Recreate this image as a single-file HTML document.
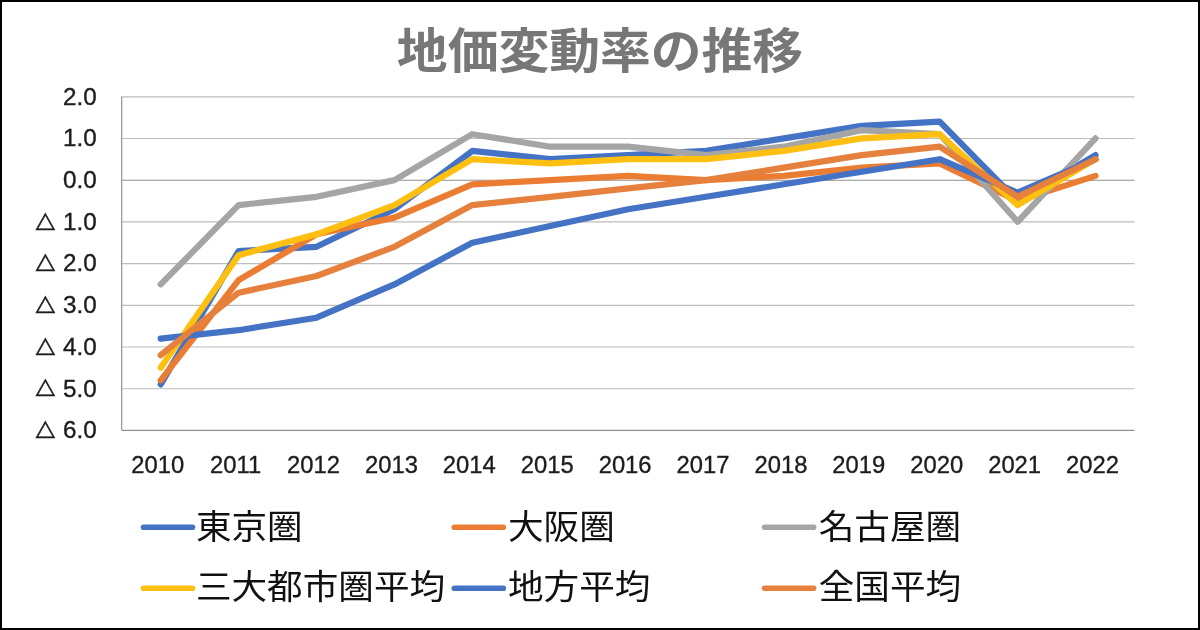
<!DOCTYPE html>
<html lang="ja">
<head>
<meta charset="utf-8">
<title>地価変動率の推移</title>
<style>
html,body{margin:0;padding:0;background:#fff;}
body{width:1200px;height:630px;overflow:hidden;font-family:"Liberation Sans","Noto Sans CJK JP",sans-serif;}
svg{display:block;}
.ax{font-family:"Liberation Sans","Noto Sans CJK JP",sans-serif;font-size:23.1px;fill:#1c1c1c;stroke:#1c1c1c;stroke-width:0.35px;}
.tri{font-family:"DejaVu Sans","Noto Sans CJK JP",sans-serif;font-size:21.6px;fill:#1c1c1c;stroke:#1c1c1c;stroke-width:0.45px;}
.lg{font-family:"Liberation Sans","Noto Sans CJK JP",sans-serif;font-size:35.6px;fill:#111;}
.tt{font-family:"Liberation Sans","Noto Sans CJK JP",sans-serif;font-size:50.8px;font-weight:bold;fill:#777;}
</style>
</head>
<body>
<svg width="1200" height="630" viewBox="0 0 1200 630">
<rect x="0" y="0" width="1200" height="630" fill="#000"/>
<rect x="2" y="2" width="1196" height="626" fill="#fff"/>
<text class="tt" transform="translate(600,67.5) scale(1,0.945)" text-anchor="middle">地価変動率の推移</text>
<line x1="121.7" x2="1134.5" y1="96.8" y2="96.8" stroke="#bdbdbd" stroke-width="1.15"/>
<line x1="121.7" x2="1134.5" y1="138.5" y2="138.5" stroke="#bdbdbd" stroke-width="1.15"/>
<line x1="121.7" x2="1134.5" y1="180.2" y2="180.2" stroke="#8f8f8f" stroke-width="1.15"/>
<line x1="121.7" x2="1134.5" y1="221.9" y2="221.9" stroke="#bdbdbd" stroke-width="1.15"/>
<line x1="121.7" x2="1134.5" y1="263.6" y2="263.6" stroke="#bdbdbd" stroke-width="1.15"/>
<line x1="121.7" x2="1134.5" y1="305.3" y2="305.3" stroke="#bdbdbd" stroke-width="1.15"/>
<line x1="121.7" x2="1134.5" y1="347.0" y2="347.0" stroke="#bdbdbd" stroke-width="1.15"/>
<line x1="121.7" x2="1134.5" y1="388.7" y2="388.7" stroke="#bdbdbd" stroke-width="1.15"/>
<line x1="121.7" x2="1134.5" y1="430.4" y2="430.4" stroke="#8f8f8f" stroke-width="1.15"/>
<line x1="121.7" x2="121.7" y1="96.7" y2="430.3" stroke="#8f8f8f" stroke-width="1.15"/>
<text class="ax" transform="translate(96.8,104.6) scale(1.05,1)" text-anchor="end">2.0</text>
<text class="ax" transform="translate(96.8,146.3) scale(1.05,1)" text-anchor="end">1.0</text>
<text class="ax" transform="translate(96.8,188.0) scale(1.05,1)" text-anchor="end">0.0</text>
<text class="ax" transform="translate(96.8,229.7) scale(1.05,1)" text-anchor="end">1.0</text>
<text class="tri" transform="translate(45.4,226.6) scale(1.16,1.03)" text-anchor="middle">△</text>
<text class="ax" transform="translate(96.8,271.4) scale(1.05,1)" text-anchor="end">2.0</text>
<text class="tri" transform="translate(45.4,268.3) scale(1.16,1.03)" text-anchor="middle">△</text>
<text class="ax" transform="translate(96.8,313.1) scale(1.05,1)" text-anchor="end">3.0</text>
<text class="tri" transform="translate(45.4,310.0) scale(1.16,1.03)" text-anchor="middle">△</text>
<text class="ax" transform="translate(96.8,354.8) scale(1.05,1)" text-anchor="end">4.0</text>
<text class="tri" transform="translate(45.4,351.7) scale(1.16,1.03)" text-anchor="middle">△</text>
<text class="ax" transform="translate(96.8,396.5) scale(1.05,1)" text-anchor="end">5.0</text>
<text class="tri" transform="translate(45.4,393.4) scale(1.16,1.03)" text-anchor="middle">△</text>
<text class="ax" transform="translate(96.8,438.2) scale(1.05,1)" text-anchor="end">6.0</text>
<text class="tri" transform="translate(45.4,435.1) scale(1.16,1.03)" text-anchor="middle">△</text>
<text class="ax" transform="translate(157.7,472.6) scale(1.03,1)" text-anchor="middle">2010</text>
<text class="ax" transform="translate(235.6,472.6) scale(1.03,1)" text-anchor="middle">2011</text>
<text class="ax" transform="translate(313.5,472.6) scale(1.03,1)" text-anchor="middle">2012</text>
<text class="ax" transform="translate(391.4,472.6) scale(1.03,1)" text-anchor="middle">2013</text>
<text class="ax" transform="translate(469.3,472.6) scale(1.03,1)" text-anchor="middle">2014</text>
<text class="ax" transform="translate(547.2,472.6) scale(1.03,1)" text-anchor="middle">2015</text>
<text class="ax" transform="translate(625.1,472.6) scale(1.03,1)" text-anchor="middle">2016</text>
<text class="ax" transform="translate(703.0,472.6) scale(1.03,1)" text-anchor="middle">2017</text>
<text class="ax" transform="translate(780.9,472.6) scale(1.03,1)" text-anchor="middle">2018</text>
<text class="ax" transform="translate(858.8,472.6) scale(1.03,1)" text-anchor="middle">2019</text>
<text class="ax" transform="translate(936.7,472.6) scale(1.03,1)" text-anchor="middle">2020</text>
<text class="ax" transform="translate(1014.6,472.6) scale(1.03,1)" text-anchor="middle">2021</text>
<text class="ax" transform="translate(1092.5,472.6) scale(1.03,1)" text-anchor="middle">2022</text>
<polyline points="160.7,384.4 238.6,251.0 316.5,246.8 394.4,209.3 472.3,150.9 550.2,159.2 628.1,155.1 706.0,150.9 783.9,138.4 861.8,125.9 939.7,121.7 1017.6,200.9 1095.5,155.1" fill="none" stroke="#4472C4" stroke-width="6.2" stroke-linecap="round" stroke-linejoin="round"/>
<polyline points="160.7,380.3 238.6,280.2 316.5,234.3 394.4,217.6 472.3,184.3 550.2,180.1 628.1,175.9 706.0,180.1 783.9,175.9 861.8,167.6 939.7,163.4 1017.6,200.9 1095.5,175.9" fill="none" stroke="#EB7D33" stroke-width="6.2" stroke-linecap="round" stroke-linejoin="round"/>
<polyline points="160.7,284.4 238.6,205.1 316.5,196.8 394.4,180.1 472.3,134.2 550.2,146.7 628.1,146.7 706.0,155.1 783.9,146.7 861.8,130.1 939.7,134.2 1017.6,221.8 1095.5,138.4" fill="none" stroke="#A5A5A5" stroke-width="6.2" stroke-linecap="round" stroke-linejoin="round"/>
<polyline points="160.7,367.8 238.6,255.2 316.5,234.3 394.4,205.1 472.3,159.2 550.2,163.4 628.1,159.2 706.0,159.2 783.9,150.9 861.8,138.4 939.7,134.2 1017.6,205.1 1095.5,159.2" fill="none" stroke="#FDC010" stroke-width="6.2" stroke-linecap="round" stroke-linejoin="round"/>
<polyline points="160.7,338.6 238.6,330.2 316.5,317.7 394.4,284.4 472.3,242.7 550.2,226.0 628.1,209.3 706.0,196.8 783.9,184.3 861.8,171.8 939.7,159.2 1017.6,192.6 1095.5,159.2" fill="none" stroke="#4472C4" stroke-width="6.2" stroke-linecap="round" stroke-linejoin="round"/>
<polyline points="160.7,355.2 238.6,292.7 316.5,276.0 394.4,246.8 472.3,205.1 550.2,196.8 628.1,188.4 706.0,180.1 783.9,167.6 861.8,155.1 939.7,146.7 1017.6,196.8 1095.5,159.2" fill="none" stroke="#E5813D" stroke-width="6.2" stroke-linecap="round" stroke-linejoin="round"/>
<line x1="143.5" x2="192.5" y1="527.2" y2="527.2" stroke="#4472C4" stroke-width="5.6" stroke-linecap="round"/>
<text class="lg" transform="translate(195.9,538.8) scale(1,0.95)">東京圏</text>
<line x1="454.3" x2="503.3" y1="527.2" y2="527.2" stroke="#EB7D33" stroke-width="5.6" stroke-linecap="round"/>
<text class="lg" transform="translate(508.0,538.8) scale(1,0.95)">大阪圏</text>
<line x1="764.6" x2="813.6" y1="527.2" y2="527.2" stroke="#A5A5A5" stroke-width="5.6" stroke-linecap="round"/>
<text class="lg" transform="translate(818.7,538.8) scale(1,0.95)">名古屋圏</text>
<line x1="143.5" x2="192.5" y1="588.2" y2="588.2" stroke="#FDC010" stroke-width="5.6" stroke-linecap="round"/>
<text class="lg" transform="translate(195.9,599.3) scale(1,0.95)">三大都市圏平均</text>
<line x1="454.3" x2="503.3" y1="588.2" y2="588.2" stroke="#4472C4" stroke-width="5.6" stroke-linecap="round"/>
<text class="lg" transform="translate(508.0,599.3) scale(1,0.95)">地方平均</text>
<line x1="764.6" x2="813.6" y1="588.2" y2="588.2" stroke="#E5813D" stroke-width="5.6" stroke-linecap="round"/>
<text class="lg" transform="translate(818.7,599.3) scale(1,0.95)">全国平均</text>
</svg>
</body>
</html>
